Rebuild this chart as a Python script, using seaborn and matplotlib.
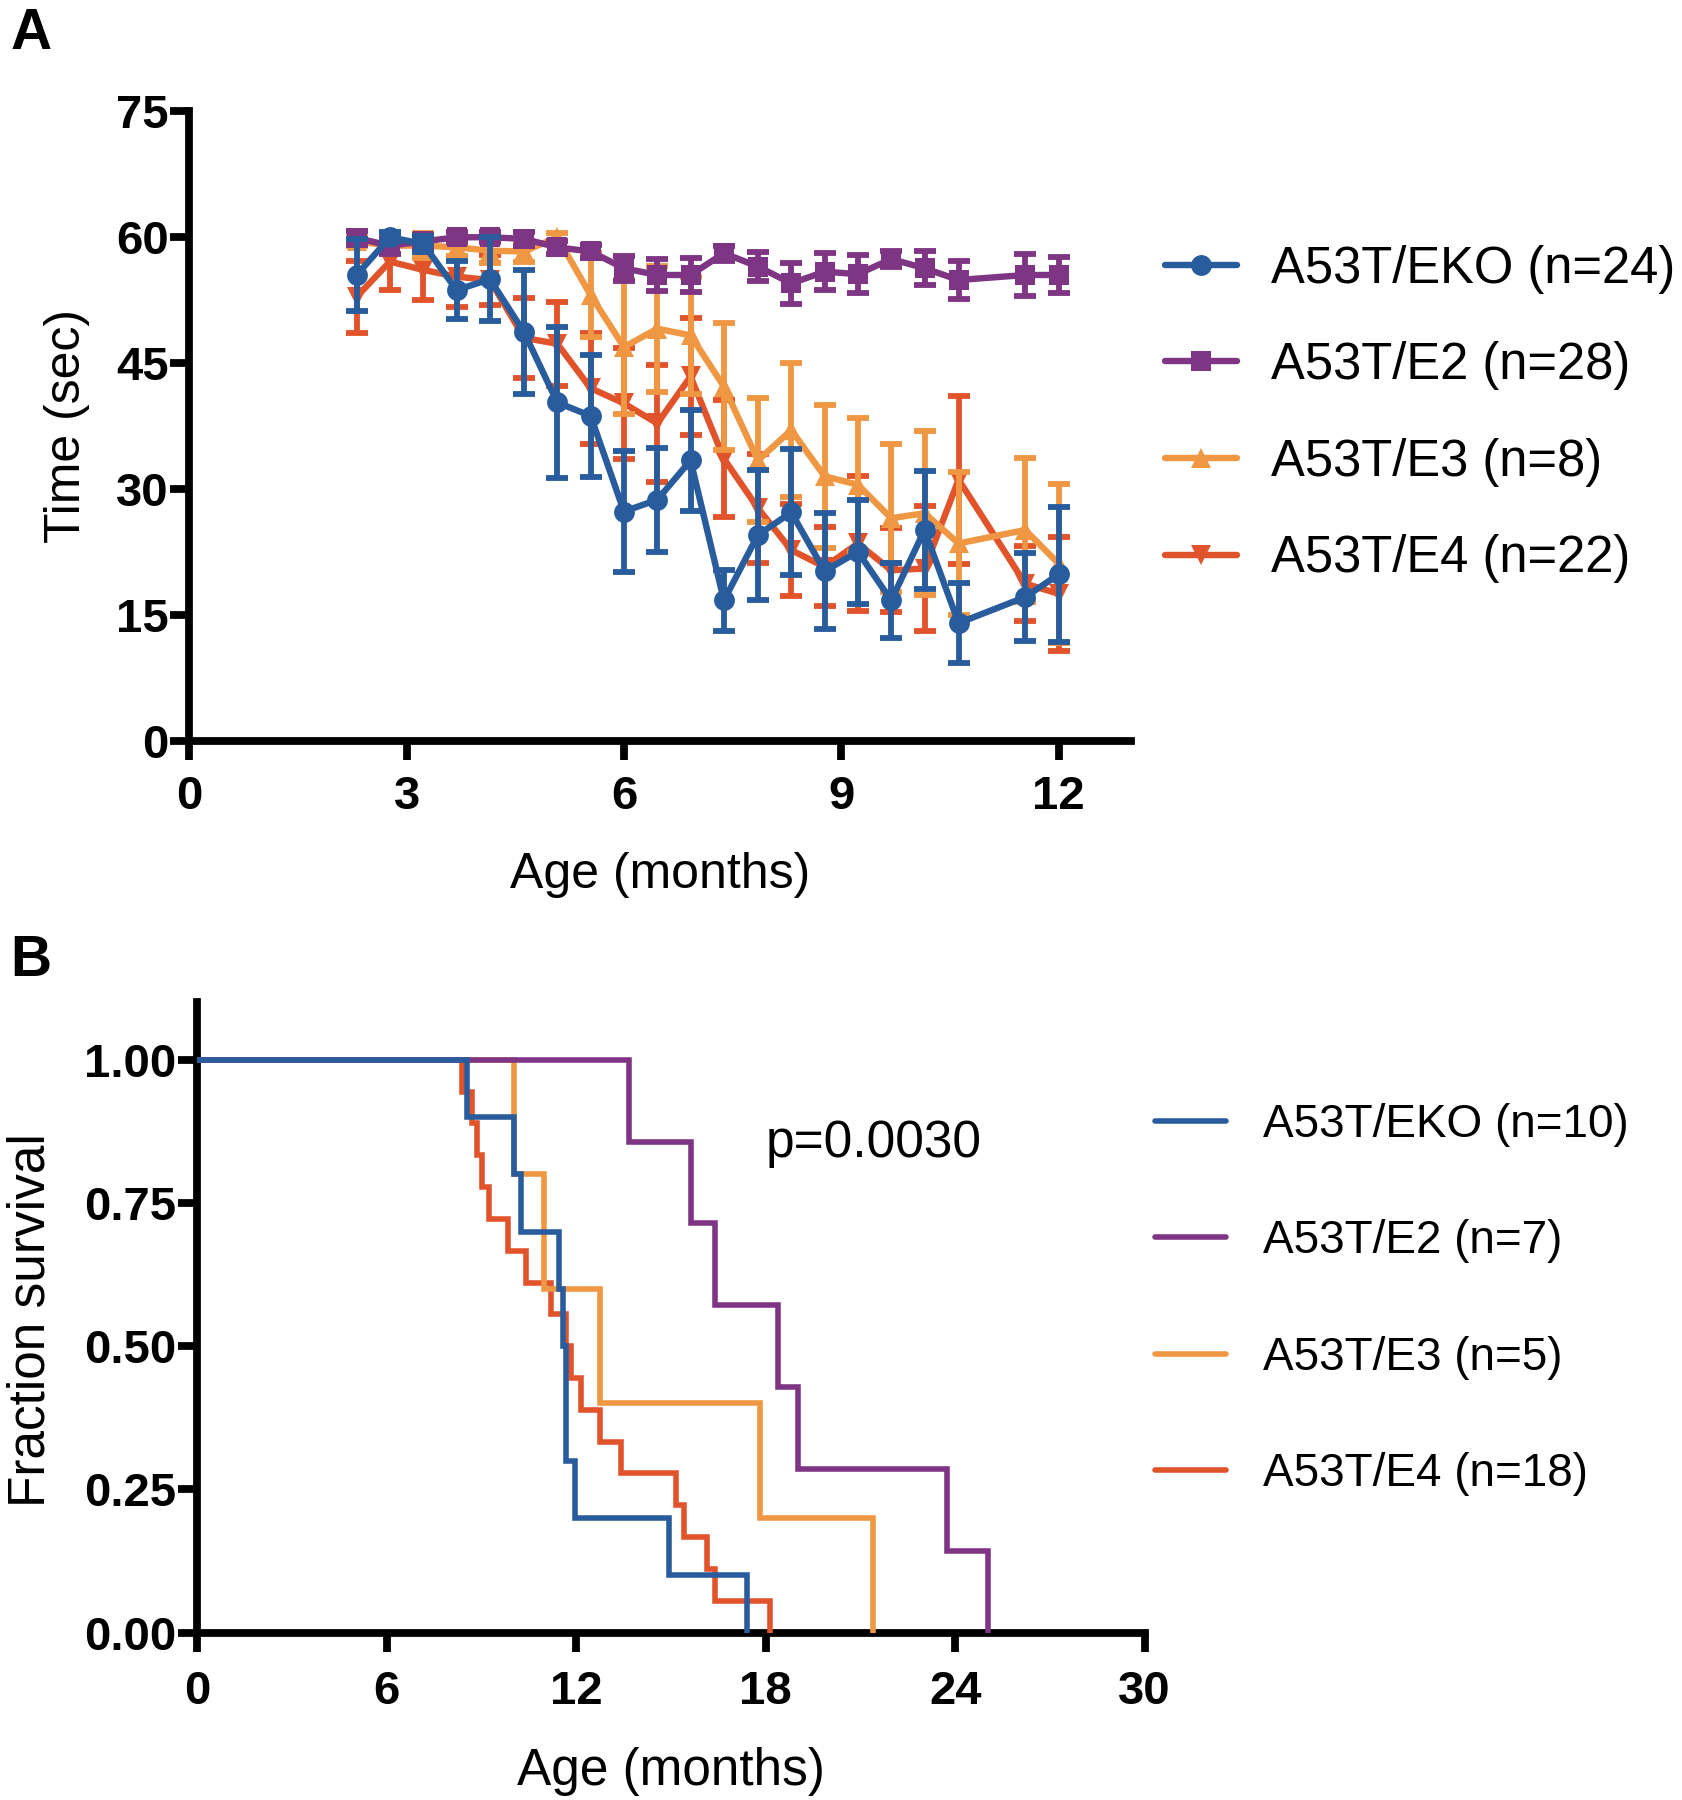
import numpy as np
import pandas as pd
import matplotlib
matplotlib.use("Agg")
import matplotlib.pyplot as plt
import seaborn as sns

# ==========================================
# data: panel A, rotarod time (mean +/- SEM)
# ==========================================
age_months = [2.31, 2.77, 3.23, 3.69, 4.15, 4.62, 5.08, 5.54, 6.00, 6.46, 6.92,
              7.38, 7.85, 8.31, 8.77, 9.23, 9.69, 10.15, 10.62, 11.54, 12.00]

eko_mean = [55.5, 60.0, 59.2, 53.7, 55.0, 48.7, 40.3, 38.7, 27.3, 28.7, 33.4,
            16.7, 24.5, 27.2, 20.2, 22.5, 16.7, 25.1, 14.0, 17.1, 19.8]
eko_sem = [4.3, 0.6, 1.0, 3.5, 5.0, 7.4, 9.0, 7.3, 7.2, 6.2, 6.0,
           3.6, 7.7, 7.5, 6.9, 6.2, 4.5, 7.0, 4.8, 5.2, 8.0]
e2_mean = [59.9, 59.0, 59.5, 60.0, 60.0, 59.8, 58.8, 58.3, 56.3, 55.5, 55.5,
           58.1, 56.5, 54.5, 55.9, 55.6, 57.4, 56.3, 54.9, 55.5, 55.5]
e2_sem = [0.8, 1.0, 0.8, 0.6, 0.6, 0.8, 0.8, 0.8, 1.5, 1.9, 2.0,
          0.9, 1.7, 2.4, 2.2, 2.3, 1.0, 2.0, 2.3, 2.5, 2.1]
e3_mean = [59.5, 59.0, 59.0, 58.8, 58.4, 58.3, 60.0, 53.1, 46.9, 49.1, 48.3,
           42.2, 33.4, 37.0, 31.5, 30.5, 26.5, 27.1, 23.5, 25.1, 21.1]
e3_sem = [0.5, 1.0, 1.5, 1.0, 1.5, 1.2, 0.5, 5.0, 8.0, 7.5, 7.0,
          7.6, 7.4, 8.0, 8.5, 8.0, 8.8, 9.8, 8.5, 8.6, 9.5]
e4_mean = [52.9, 57.1, 56.1, 55.3, 54.9, 48.0, 47.3, 42.0, 40.2, 37.8, 43.4,
           33.6, 27.7, 22.7, 20.7, 23.5, 20.3, 20.5, 31.1, 18.7, 17.5]
e4_sem = [4.3, 3.4, 3.6, 3.6, 3.0, 4.8, 5.0, 6.6, 6.6, 7.0, 7.0,
          7.0, 6.5, 5.5, 4.7, 8.0, 5.0, 7.5, 10.0, 4.5, 6.8]

labels_a = ["A53T/EKO (n=24)", "A53T/E2 (n=28)", "A53T/E3 (n=8)", "A53T/E4 (n=22)"]

# ==========================================
# data: panel B, age at death (months), no censoring
# ==========================================
eko_deaths = [8.55, 10.03, 10.24, 11.46, 11.57, 11.67, 11.67, 11.95, 14.93, 17.40]
e2_deaths = [13.68, 15.62, 16.40, 18.39, 19.02, 23.74, 25.05]
e3_deaths = [10.03, 10.99, 12.74, 17.82, 21.38]
e4_deaths = [8.39, 8.70, 8.86, 9.02, 9.24, 9.82, 10.40, 11.20, 11.68, 11.84,
             12.15, 12.74, 13.42, 15.14, 15.40, 16.14, 16.40, 18.13]

labels_b = ["A53T/EKO (n=10)", "A53T/E2 (n=7)", "A53T/E3 (n=5)", "A53T/E4 (n=18)"]
p_text = "p=0.0030"

colors = ["#285C9C", "#7E3583", "#EF9742", "#E1532B"]
markers = ["o", "s", "^", "v"]


def km_steps(times):
    # Kaplan-Meier without censoring: S(t) = 1 - deaths / n
    t = np.sort(np.asarray(times))
    uniq, counts = np.unique(t, return_counts=True)
    surv = 1 - np.cumsum(counts) / len(t)
    return np.concatenate([[0.0], uniq]), np.concatenate([[1.0], surv])


sns.set_theme(style="ticks")
plt.rcParams["font.family"] = ["Liberation Sans", "DejaVu Sans"]
plt.rcParams["text.color"] = "black"
plt.rcParams["axes.labelcolor"] = "black"
plt.rcParams["axes.edgecolor"] = "black"
plt.rcParams["xtick.color"] = "black"
plt.rcParams["ytick.color"] = "black"

fig = plt.figure(figsize=(16.83, 18), dpi=100)
axA = fig.add_axes([0.1125, 0.5886, 0.672 - 0.1125, 0.9381 - 0.5886])
axB = fig.add_axes([0.1173, 0.0930, 0.6802 - 0.1173, 0.4431 - 0.0930])

SPINE = 5.6

# ---------------- panel A ----------------
means = [eko_mean, e2_mean, e3_mean, e4_mean]
sems = [eko_sem, e2_sem, e3_sem, e4_sem]
for i in range(4):
    z = 10 - i
    df = pd.DataFrame({"age": age_months, "time": means[i]})
    sns.lineplot(data=df, x="age", y="time", ax=axA, color=colors[i],
                 marker=markers[i], markersize=15, markeredgewidth=0,
                 linewidth=4.6, estimator=None, sort=False,
                 label=labels_a[i], zorder=z)
    axA.errorbar(age_months, means[i], yerr=sems[i], fmt="none",
                 ecolor=colors[i], elinewidth=4.2, capsize=8, capthick=4.2,
                 zorder=z)

axA.set_xlim(0, 13)
axA.set_ylim(0, 75)
axA.set_xticks([0, 3, 6, 9, 12])
axA.set_yticks([0, 15, 30, 45, 60, 75])
axA.set_xlabel("Age (months)", fontsize=36)
axA.set_ylabel("Time (sec)", fontsize=36)
axA.xaxis.set_label_coords(0.5, -0.178)
axA.yaxis.set_label_coords(-0.106, 0.5)
axA.legend(loc="center left", bbox_to_anchor=(0.692, 0.770),
           bbox_transform=fig.transFigure, frameon=False, fontsize=36.5,
           handlelength=1.43, handletextpad=0.67, labelspacing=0.94,
           borderpad=0, borderaxespad=0, numpoints=1)

# ---------------- panel B ----------------
deaths = [eko_deaths, e2_deaths, e3_deaths, e4_deaths]
for i in range(4):
    x, y = km_steps(deaths[i])
    df = pd.DataFrame({"age": x, "surv": y})
    sns.lineplot(data=df, x="age", y="surv", ax=axB, color=colors[i],
                 drawstyle="steps-post", linewidth=4.0, estimator=None,
                 sort=False, label=labels_b[i], zorder=10 - i,
                 solid_capstyle="round", solid_joinstyle="miter")

axB.set_xlim(0, 30)
axB.set_ylim(0, 1.1)
axB.set_xticks([0, 6, 12, 18, 24, 30])
axB.set_yticks([0, 0.25, 0.5, 0.75, 1.0])
axB.set_yticklabels(["0.00", "0.25", "0.50", "0.75", "1.00"])
axB.set_xlabel("Age (months)", fontsize=37)
axB.set_ylabel("Fraction survival", fontsize=37)
axB.xaxis.set_label_coords(0.5, -0.182)
axB.yaxis.set_label_coords(-0.150, 0.496)
axB.text(18.0, 0.83, p_text, fontsize=37)
axB.legend(loc="center left", bbox_to_anchor=(0.686, 0.278),
           bbox_transform=fig.transFigure, frameon=False, fontsize=33,
           handlelength=1.57, handletextpad=0.79, labelspacing=1.58,
           borderpad=0, borderaxespad=0)
for line in axB.get_legend().get_lines():
    line.set_linewidth(4.0)

# ---------------- shared axis styling ----------------
for ax, fs, xpad, ypad in [(axA, 34, 11, 1), (axB, 34, 13, 1)]:
    sns.despine(ax=ax)
    for side in ["left", "bottom"]:
        ax.spines[side].set_linewidth(SPINE)
        ax.spines[side].set_color("black")
        ax.spines[side].set_capstyle("projecting")
    ax.tick_params(axis="both", direction="out", length=14, width=SPINE,
                   color="black", labelcolor="black", labelsize=fs)
    ax.tick_params(axis="x", pad=xpad)
    ax.tick_params(axis="y", pad=ypad)
    for lbl in ax.get_xticklabels() + ax.get_yticklabels():
        lbl.set_fontweight("bold")
    ax.set_facecolor("white")

fig.text(0.006, 0.9728, "A", fontsize=41, fontweight="bold", va="baseline")
fig.text(0.006, 0.4578, "B", fontsize=41, fontweight="bold", va="baseline")

fig.savefig("out.png", dpi=100, facecolor="white")
